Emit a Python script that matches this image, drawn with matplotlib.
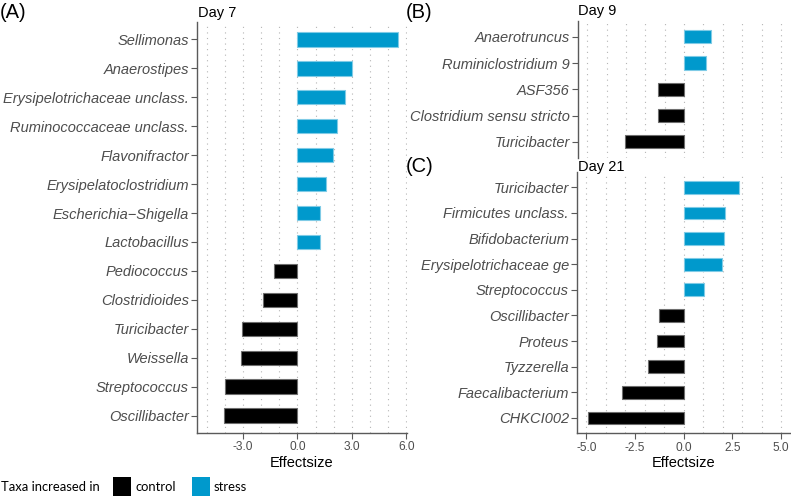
import matplotlib
matplotlib.use('Agg')
import matplotlib.pyplot as plt
import numpy as np
from matplotlib.patches import Rectangle

plt.rcParams['font.family'] = ['Liberation Sans', 'DejaVu Sans']

# ---------------- data ----------------
taxa_a = ['Sellimonas', 'Anaerostipes', 'Erysipelotrichaceae unclass.',
          'Ruminococcaceae unclass.', 'Flavonifractor', 'Erysipelatoclostridium',
          'Escherichia\u2212Shigella', 'Lactobacillus', 'Pediococcus', 'Clostridioides',
          'Turicibacter', 'Weissella', 'Streptococcus', 'Oscillibacter']
eff_a = [5.57, 3.01, 2.60, 2.21, 1.96, 1.59, 1.26, 1.24,
         -1.27, -1.88, -3.06, -3.13, -4.00, -4.04]

taxa_b = ['Anaerotruncus', 'Ruminiclostridium 9', 'ASF356',
          'Clostridium sensu stricto', 'Turicibacter']
eff_b = [1.38, 1.11, -1.32, -1.32, -3.03]

taxa_c = ['Turicibacter', 'Firmicutes unclass.', 'Bifidobacterium',
          'Erysipelotrichaceae ge', 'Streptococcus', 'Oscillibacter', 'Proteus',
          'Tyzzerella', 'Faecalibacterium', 'CHKCI002']
eff_c = [2.84, 2.14, 2.07, 1.97, 1.03, -1.27, -1.40, -1.83, -3.15, -4.91]

ticks_a = [-3.0, 0.0, 3.0, 6.0]
ticks_c = [-5.0, -2.5, 0.0, 2.5, 5.0]

groups = ['control', 'stress']
group_colors = {'control': '#000000', 'stress': '#0099cc'}
group_edges = {'control': '#6e6e6e', 'stress': '#7fcbe6'}

# ---------------- layout ----------------
W, H = 791, 496
fig = plt.figure(figsize=(W / 100, H / 100), dpi=100)


def rect(l, t, r, b):
    return [l / W, 1 - b / H, (r - l) / W, (b - t) / H]


def fx(x):
    return x / W


def fy(y):
    return 1 - y / H


GREY = '#4d4d4d'
AXCOL = '#5a5a5a'


def panel(r, taxa, eff, xlim, ticks, show_x):
    ax = fig.add_axes(r)
    n = len(taxa)
    y = np.arange(n)[::-1]
    grp = ['stress' if v > 0 else 'control' for v in eff]
    ax.barh(y, eff, height=0.5, color=[group_colors[g] for g in grp],
            edgecolor=[group_edges[g] for g in grp], linewidth=0.8, zorder=3)
    for g in np.arange(np.ceil(xlim[0]), np.floor(xlim[1]) + 1):
        ax.axvline(g, color='#b5b5b5', lw=0.8, ls=(0, (1, 4)), zorder=1)
    ax.set_xlim(xlim)
    ax.set_ylim(-0.6, n - 0.4)
    ax.set_yticks(y)
    ax.set_yticklabels(taxa, fontstyle='italic', color=GREY, fontsize=10.5)
    for s in ['top', 'right']:
        ax.spines[s].set_visible(False)
    ax.spines['left'].set_color(AXCOL)
    ax.spines['left'].set_linewidth(1.0)
    ax.tick_params(axis='y', length=4, width=0.8, color=AXCOL, pad=2)
    if show_x:
        ax.spines['bottom'].set_color(AXCOL)
        ax.spines['bottom'].set_linewidth(1.0)
        ax.set_xticks(ticks)
        ax.set_xticklabels(['%.1f' % t if t != 0 else '0.0' for t in ticks],
                           color=GREY, fontsize=8.6)
        ax.tick_params(axis='x', length=4, width=0.8, color=AXCOL, pad=2)
        ax.set_xlabel('Effectsize', fontsize=10.5, color='black', labelpad=2)
    else:
        ax.spines['bottom'].set_visible(False)
        ax.set_xticks([])
    ax.set_facecolor('none')
    return ax


panel(rect(197.3, 22, 406.5, 433), taxa_a, eff_a, (-5.53, 6.02), ticks_a, True)
panel(rect(578, 21, 790, 157.5), taxa_b, eff_b, (-5.47, 5.46), ticks_c, False)
panel(rect(577.3, 172, 790, 433.3), taxa_c, eff_c, (-5.47, 5.46), ticks_c, True)

# titles
fig.text(fx(198), fy(12.5), 'Day 7', fontsize=10.5, va='center', ha='left')
fig.text(fx(578.5), fy(11.5), 'Day 9', fontsize=10.5, va='center', ha='left')
fig.text(fx(578.5), fy(167), 'Day 21', fontsize=10.5, va='center', ha='left')

# panel letters
fig.text(fx(0), fy(12), '(A)', fontsize=14.5, va='center', ha='left')
fig.text(fx(406), fy(12), '(B)', fontsize=14.5, va='center', ha='left')
fig.text(fx(406), fy(167), '(C)', fontsize=14.5, va='center', ha='left')

# legend
LEGFONT = ['Lato', 'DejaVu Sans']
fig.text(fx(1), fy(487), 'Taxa increased in', fontsize=9.4, family=LEGFONT,
         va='center', ha='left')
box_x = {'control': 112.7, 'stress': 191.7}
lab_x = {'control': 135, 'stress': 213.3}
for g in groups:
    fig.patches.append(Rectangle((fx(box_x[g]), fy(498)), 18.3 / W, 21.3 / H,
                                 transform=fig.transFigure,
                                 facecolor=group_colors[g], edgecolor='none'))
    fig.text(fx(lab_x[g]), fy(487), g, fontsize=9.4, family=LEGFONT,
             va='center', ha='left')

fig.savefig('out.png', dpi=100)
